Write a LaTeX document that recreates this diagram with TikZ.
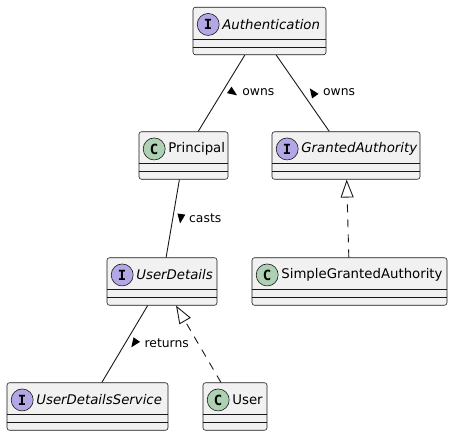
\documentclass[tikz,border=0pt]{standalone}
\usepackage{fontspec}
\setmainfont{DejaVu Sans}
\newfontfamily\letterfont{DejaVu Sans Mono}
\usetikzlibrary{arrows.meta}

\definecolor{boxfill}{HTML}{F1F1F1}
\definecolor{boxline}{HTML}{181818}
\definecolor{classgreen}{HTML}{ADD1B2}
\definecolor{ifacepurple}{HTML}{B4A7E5}

\begin{document}
\begin{tikzpicture}[
    x=1pt, y=-1pt,
    umlbox/.style={draw=boxline, line width=0.6pt, fill=boxfill, rounded corners=2.5pt, minimum height=47.5pt, inner sep=0pt},
    sep/.style={draw=boxline, line width=0.6pt},
    badge/.style={circle, draw=boxline, line width=0.6pt, minimum size=22pt, inner sep=0pt, font=\letterfont\bfseries\fontsize{14}{14}\selectfont},
    cbadge/.style={badge, fill=classgreen},
    ibadge/.style={badge, fill=ifacepurple},
    cname/.style={anchor=west, inner sep=0pt, font=\fontsize{13.3}{16}\selectfont},
    iname/.style={cname, font=\fontsize{13.3}{16}\selectfont\itshape},
    assoc/.style={draw=boxline, line width=0.9pt},
    realize/.style={draw=boxline, line width=0.9pt, dash pattern=on 8pt off 7pt, -{Triangle[open, length=18pt, width=13pt]}},
    elabel/.style={anchor=west, inner sep=0pt, font=\fontsize{12.35}{14}\selectfont},
    % filled direction mark, #1 = page angle of its tip
    dirtri/.pic={\fill[black] (#1:5pt) -- (#1+138.4:6pt) -- (#1-138.4:6pt) -- cycle;}
]
\useasboundingbox (0,0) rectangle (453,436);

% ----------------- class boxes -----------------
\node[umlbox, minimum width=133pt] (auth)      at (259.5,31)    {};
\node[umlbox, minimum width=89pt]  (principal) at (183.5,155.5) {};
\node[umlbox, minimum width=148pt] (granted)   at (346,155.5)   {};
\node[umlbox, minimum width=110pt] (details)   at (162,281.5)   {};
\node[umlbox, minimum width=195pt] (simple)    at (349.5,281.5) {};
\node[umlbox, minimum width=161pt] (service)   at (87.5,406.5)  {};
\node[umlbox, minimum width=64pt]  (user)      at (235,406.5)   {};

% empty field / method compartments
\foreach \n in {auth, principal, granted, details, simple, service, user} {
    \draw[sep] ([yshift=16pt]\n.south west) -- ([yshift=16pt]\n.south east);
    \draw[sep] ([yshift=8pt]\n.south west) -- ([yshift=8pt]\n.south east);
}

% ----------------- badges and names -----------------
\node[ibadge] (auth-b)      at ([xshift=15.5pt, yshift=-17.5pt]auth.north west)      {I};
\node[cbadge] (principal-b) at ([xshift=15.5pt, yshift=-17.5pt]principal.north west) {C};
\node[ibadge] (granted-b)   at ([xshift=15.5pt, yshift=-17.5pt]granted.north west)   {I};
\node[ibadge] (details-b)   at ([xshift=15.5pt, yshift=-17.5pt]details.north west)   {I};
\node[cbadge] (simple-b)    at ([xshift=15.5pt, yshift=-17.5pt]simple.north west)    {C};
\node[ibadge] (service-b)   at ([xshift=15.5pt, yshift=-17.5pt]service.north west)   {I};
\node[cbadge] (user-b)      at ([xshift=15.5pt, yshift=-17.5pt]user.north west)      {C};

\node[iname] (auth-n)      at ([xshift=14pt]auth-b.center)      {Authentication};
\node[cname] (principal-n) at ([xshift=14pt]principal-b.center) {Principal};
\node[iname] (granted-n)   at ([xshift=14pt]granted-b.center)   {GrantedAuthority};
\node[iname] (details-n)   at ([xshift=14pt]details-b.center)   {UserDetails};
\node[cname] (simple-n)    at ([xshift=14pt]simple-b.center)    {SimpleGrantedAuthority};
\node[iname] (service-n)   at ([xshift=14pt]service-b.center)   {UserDetailsService};
\node[cname] (user-n)      at ([xshift=14pt]user-b.center)      {User};

% ----------------- associations -----------------
\draw[assoc] (auth) -- node[elabel, pos=0.49, xshift=20pt] (owns-p) {owns} (principal);
\pic at ([xshift=-9pt]owns-p.west) {dirtri=-35};

\draw[assoc] (auth) -- node[elabel, pos=0.49, xshift=20.5pt] (owns-g) {owns} (granted);
\pic at ([xshift=-10pt]owns-g.west) {dirtri=125};

\draw[assoc] (principal) -- node[elabel, pos=0.5, xshift=16pt] (casts) {casts} (details);
\pic at ([xshift=-8pt]casts.west) {dirtri=262};

\draw[assoc] (details) -- node[elabel, pos=0.49, xshift=19pt] (returns) {returns} (service);
\pic at ([xshift=-10pt]returns.west) {dirtri=235};

% ----------------- realizations -----------------
\draw[realize] (simple) -- (granted);
\draw[realize] (user) -- (details);

\end{tikzpicture}
\end{document}
